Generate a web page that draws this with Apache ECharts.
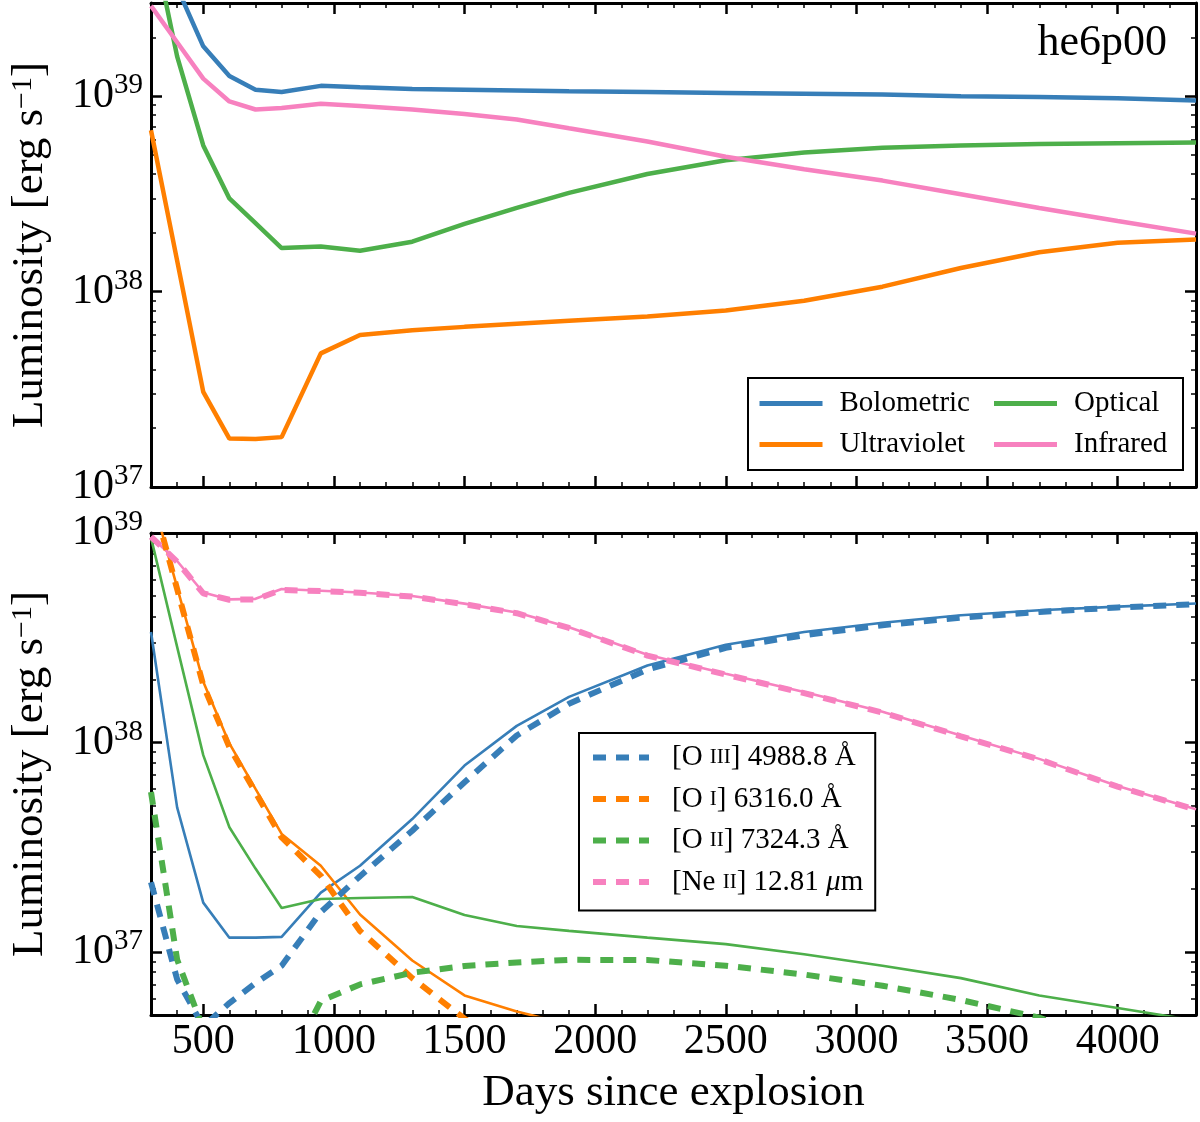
<!DOCTYPE html>
<html>
<head>
<meta charset="utf-8">
<script src="https://cdn.jsdelivr.net/npm/echarts@6/dist/echarts.min.js"></script>
<style>
html, body { margin: 0; padding: 0; background: #fff; }
#chart { width: 1200px; height: 1122px; }
</style>
</head>
<body>
<div id="chart"></div>
<script>
var font = "Liberation Serif";
var blue = "#377eb8", orange = "#ff7f00", green = "#4daf4a", pink = "#f781bf";

// days since explosion (shared by all curves)
var days = [300, 400, 500, 600, 700, 800, 950, 1100, 1300, 1500, 1700, 1900, 2200, 2500, 2800, 3100, 3400, 3700, 4000, 4300];

// top panel: band luminosities
var bolometric  = [8e39, 3.6e39, 1.8e39, 1.27e39, 1.08e39, 1.05e39, 1.13e39, 1.11e39, 1.09e39, 1.08e39, 1.07e39, 1.06e39, 1.05e39, 1.04e39, 1.03e39, 1.02e39, 1.0e39, 0.99e39, 0.975e39, 0.95e39];
var ultraviolet = [6.7e38, 1.44e38, 3.07e37, 1.77e37, 1.76e37, 1.8e37, 4.83e37, 6.0e37, 6.35e37, 6.6e37, 6.85e37, 7.1e37, 7.45e37, 8.0e37, 8.98e37, 1.06e38, 1.32e38, 1.59e38, 1.78e38, 1.85e38];
var optical     = [7e39, 1.6e39, 5.6e38, 3.0e38, 2.24e38, 1.67e38, 1.7e38, 1.62e38, 1.8e38, 2.22e38, 2.68e38, 3.2e38, 4.0e38, 4.7e38, 5.15e38, 5.45e38, 5.6e38, 5.7e38, 5.75e38, 5.8e38];
var infrared    = [2.9e39, 1.89e39, 1.23e39, 9.4e38, 8.55e38, 8.7e38, 9.15e38, 8.9e38, 8.55e38, 8.1e38, 7.6e38, 6.85e38, 5.87e38, 4.9e38, 4.23e38, 3.7e38, 3.15e38, 2.68e38, 2.3e38, 1.98e38];

// bottom panel: line luminosities (solid and dashed)
var o3Solid  = [3.37e38, 4.9e37, 1.72e37, 1.17e37, 1.17e37, 1.18e37, 1.92e37, 2.58e37, 4.31e37, 7.76e37, 1.2e38, 1.65e38, 2.33e38, 2.93e38, 3.37e38, 3.73e38, 4.05e38, 4.28e38, 4.45e38, 4.61e38];
var o3Dash   = [2.15e37, 7.4e36, 4.4e36, 5.7e36, 7.1e36, 8.6e36, 1.55e37, 2.3e37, 3.79e37, 6.46e37, 1.08e38, 1.53e38, 2.23e38, 2.83e38, 3.25e38, 3.63e38, 3.94e38, 4.2e38, 4.41e38, 4.57e38];
var o1Solid  = [1.55e39, 5.5e38, 1.95e38, 9.9e37, 6.0e37, 3.66e37, 2.58e37, 1.51e37, 9.1e36, 6.2e36, 5.2e36, 4.5e36, 3.8e36, 3.2e36, 2.8e36, 2.4e36, 2.1e36, 1.8e36, 1.6e36, 1.4e36];
var o1Dash   = [1.55e39, 5.4e38, 1.88e38, 9.5e37, 5.78e37, 3.52e37, 2.31e37, 1.26e37, 7.5e36, 4.8e36, 3.3e36, 2.5e36, 1.8e36, 1.4e36, 1.1e36, 9e35, 7e35, 6e35, 5e35, 4e35];
var o2Solid  = [9.5e38, 2.86e38, 8.7e37, 3.94e37, 2.5e37, 1.62e37, 1.79e37, 1.81e37, 1.83e37, 1.5e37, 1.33e37, 1.26e37, 1.17e37, 1.09e37, 9.75e36, 8.6e36, 7.5e36, 6.2e36, 5.4e36, 4.7e36];
var o2Dash   = [5.8e37, 9.2e36, 4.3e36, 1.8e36, 2.0e36, 2.5e36, 5.83e36, 7.0e36, 7.96e36, 8.57e36, 8.9e36, 9.17e36, 9.15e36, 8.6e36, 7.8e36, 6.9e36, 5.9e36, 4.86e36, 3.5e36, 2.5e36];
var ne2Solid = [9.6e38, 7.35e38, 5.2e38, 4.82e38, 4.85e38, 5.4e38, 5.3e38, 5.2e38, 5.0e38, 4.6e38, 4.17e38, 3.55e38, 2.62e38, 2.13e38, 1.74e38, 1.4e38, 1.08e38, 8.35e37, 6.2e37, 4.8e37];
var ne2Dash  = [9.6e38, 7.3e38, 5.15e38, 4.8e38, 4.82e38, 5.35e38, 5.28e38, 5.18e38, 4.97e38, 4.57e38, 4.14e38, 3.52e38, 2.6e38, 2.11e38, 1.72e38, 1.39e38, 1.07e38, 8.3e37, 6.15e37, 4.78e37];

// legend text pieces for the emission lines
var lineNames = ["[O III] 4988.8 Å", "[O I] 6316.0 Å", "[O II] 7324.3 Å", "[Ne II] 12.81 μm"];
var lineIon   = ["O", "O", "O", "Ne"];
var lineStage = ["III", "I", "II", "II"];
var lineWave  = ["4988.8", "6316.0", "7324.3", "12.81"];
var lineUnit  = ["Å", "Å", "Å", "{it|μ}m"];

// ticks
var xMajor = [500, 1000, 1500, 2000, 2500, 3000, 3500, 4000];
var xMinor = [];
for (var d = 300; d <= 4300; d += 100) { if (d % 500) xMinor.push(d); }
var yMajor = [1e37, 1e38, 1e39];
var topRange = [1e37, 3e39];
var botRange = [5e36, 1.00001e39];

function logMinor(lo, hi) {
	var out = [];
	for (var e = 36; e <= 39; e++) {
		for (var m = 2; m <= 9; m++) {
			var v = m * Math.pow(10, e);
			if (v >= lo * 0.999 && v <= hi * 1.001) out.push(v);
		}
	}
	return out;
}

function pairs(ys) {
	return days.map(function (x, i) { return [x, ys[i]]; });
}

var sup = {
	b: { fontFamily: font, fontSize: 42, color: "#000", lineHeight: 50 },
	s: { fontFamily: font, fontSize: 29, color: "#000", lineHeight: 26, verticalAlign: "top" }
};

// axis line is kept (transparent on the minor axes) so that the ticks are drawn
function xAx(grid, pos, ticks, len, line, label) {
	var ax = {
		type: "value", gridIndex: grid, position: pos, min: 300, max: 4300,
		axisLine: { show: true, onZero: false, lineStyle: { color: line ? "#000" : "rgba(0,0,0,0)", width: 3 } },
		axisTick: { show: true, inside: true, length: len, customValues: ticks, lineStyle: { color: "#000", width: len > 6 ? 2.5 : 1.5 } },
		axisLabel: {
			show: label, customValues: xMajor, margin: 6,
			fontFamily: font, fontSize: 42, color: "#000",
			formatter: function (v) { return String(v); }
		},
		splitLine: { show: false }
	};
	if (label) {
		ax.name = "Days since explosion";
		ax.nameLocation = "middle";
		ax.nameGap = 56;
		ax.nameTextStyle = { fontFamily: font, fontSize: 45, color: "#000" };
	}
	return ax;
}

function yAx(grid, pos, range, ticks, len, line, label) {
	var ax = {
		type: "log", logBase: 10, gridIndex: grid, position: pos, min: range[0], max: range[1],
		axisLine: { show: true, onZero: false, lineStyle: { color: line ? "#000" : "rgba(0,0,0,0)", width: 3 } },
		axisTick: { show: true, inside: true, length: len, customValues: ticks, lineStyle: { color: "#000", width: len > 6 ? 2.5 : 1.5 } },
		axisLabel: {
			show: label, customValues: yMajor, margin: 8, fontFamily: font,
			formatter: function (v) { return "{b|10}{s|" + Math.round(Math.log10(v)) + "}"; },
			rich: sup
		},
		splitLine: { show: false }
	};
	if (label) {
		ax.name = "Luminosity [erg s{s|−1}]";
		ax.nameLocation = "middle";
		ax.nameRotate = 90;
		ax.nameGap = 98;
		ax.nameTextStyle = {
			fontFamily: font, fontSize: 45, color: "#000",
			rich: { s: { fontFamily: font, fontSize: 30, color: "#000", lineHeight: 28, verticalAlign: "top" } }
		};
	}
	return ax;
}

var xAxes = [], yAxes = [];
[topRange, botRange].forEach(function (range, g) {
	xAxes.push(xAx(g, "bottom", xMajor, 11, true, g === 1));
	xAxes.push(xAx(g, "bottom", xMinor, 5, false, false));
	xAxes.push(xAx(g, "top", xMajor, 11, true, false));
	xAxes.push(xAx(g, "top", xMinor, 5, false, false));
	var minor = logMinor(range[0], range[1]);
	yAxes.push(yAx(g, "left", range, yMajor, 11, true, true));
	yAxes.push(yAx(g, "left", range, minor, 5, false, false));
	yAxes.push(yAx(g, "right", range, yMajor, 11, true, false));
	yAxes.push(yAx(g, "right", range, minor, 5, false, false));
});

function line(name, ys, color, g, width, dash, z) {
	return {
		name: name, type: "line", data: pairs(ys),
		xAxisIndex: 4 * g, yAxisIndex: 4 * g,
		symbol: "none", silent: true, animation: false, z: z || 2,
		lineStyle: { color: color, width: width, type: dash || "solid", cap: "butt" },
		itemStyle: { color: color }
	};
}

var dash = [13, 10];
var series = [
	line("Bolometric", bolometric, blue, 0, 4.5),
	line("Ultraviolet", ultraviolet, orange, 0, 4.5),
	line("Optical", optical, green, 0, 4.5),
	line("Infrared", infrared, pink, 0, 4.5),

	line("o3 solid", o3Solid, blue, 1, 2.6),
	line("o1 solid", o1Solid, orange, 1, 2.6),
	line("o2 solid", o2Solid, green, 1, 2.6),
	line("ne2 solid", ne2Solid, pink, 1, 2.6),
	line(lineNames[0], o3Dash, blue, 1, 6, dash, 3),
	line(lineNames[1], o1Dash, orange, 1, 6, dash, 3),
	line(lineNames[2], o2Dash, green, 1, 6, dash, 3),
	line(lineNames[3], ne2Dash, pink, 1, 6, dash, 3)
];

var chart = echarts.init(document.getElementById("chart"), null, { renderer: "canvas" });
chart.setOption({
	backgroundColor: "#fff",
	animation: false,
	grid: [
		{ left: 150, top: 3, width: 1046, height: 484 },
		{ left: 150, top: 533, width: 1046, height: 482 }
	],
	title: {
		text: "he6p00", right: 28, top: 16,
		textStyle: { fontFamily: font, fontSize: 44, fontWeight: "normal", color: "#000" }
	},
	legend: [
		{
			// band legend, two columns
			left: 748, top: 378, width: 418, orient: "horizontal",
			padding: [11, 9, 11, 9], itemGap: 12, itemWidth: 63, itemHeight: 14,
			backgroundColor: "#fff", borderColor: "#000", borderWidth: 2,
			selectedMode: false,
			itemStyle: { opacity: 0 },
			lineStyle: { width: 5 },
			textStyle: { fontFamily: font, fontSize: 29, color: "#000", lineHeight: 26, padding: [0, 0, 0, 12] },
			data: [
				{ name: "Bolometric", textStyle: { width: 140 } },
				{ name: "Optical", textStyle: { width: 100 } },
				{ name: "Ultraviolet", textStyle: { width: 140 } },
				{ name: "Infrared", textStyle: { width: 100 } }
			]
		},
		{
			// emission line legend
			left: 579, top: 733, orient: "vertical",
			padding: [10, 12, 14, 11], itemGap: 12.5, itemWidth: 56, itemHeight: 14,
			backgroundColor: "#fff", borderColor: "#000", borderWidth: 2,
			selectedMode: false,
			itemStyle: { opacity: 0 },
			lineStyle: { width: 6 },
			data: lineNames,
			formatter: function (name) {
				var i = lineNames.indexOf(name);
				return "[" + lineIon[i] + " {sc|" + lineStage[i] + "}] " + lineWave[i] + " " + lineUnit[i];
			},
			textStyle: {
				fontFamily: font, fontSize: 29, color: "#000", lineHeight: 28, padding: [0, 0, 0, 18],
				rich: {
					sc: { fontFamily: font, fontSize: 21, color: "#000" },
					it: { fontFamily: font, fontSize: 29, fontStyle: "italic", color: "#000" }
				}
			}
		}
	],
	xAxis: xAxes,
	yAxis: yAxes,
	series: series
});
window.addEventListener("resize", chart.resize);
</script>
</body>
</html>
